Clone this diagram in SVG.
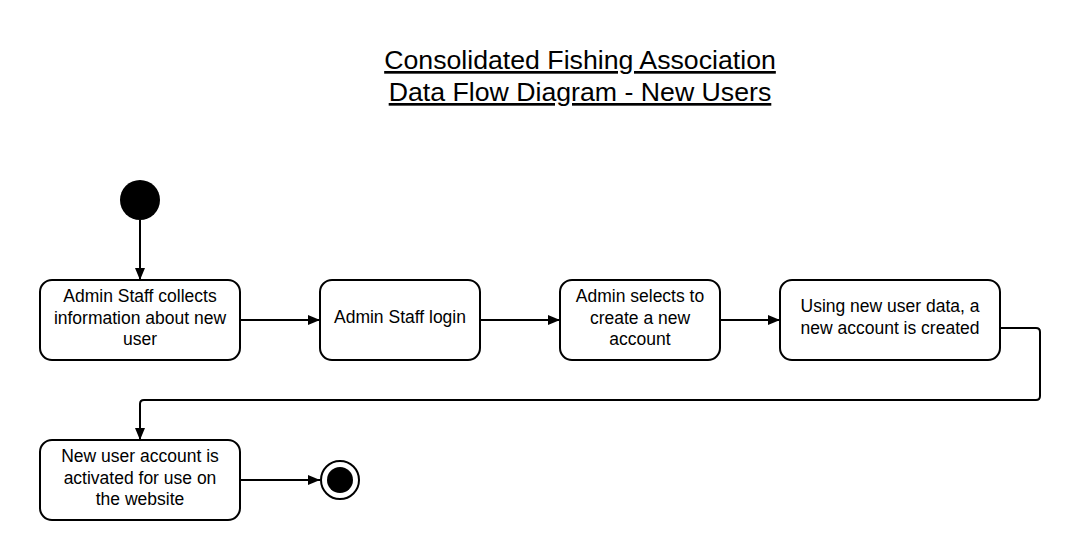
<svg xmlns="http://www.w3.org/2000/svg" width="1080" height="560" viewBox="0 0 1080 560">
<style>
.box{fill:#fff;stroke:#000;stroke-width:2}
.t{font-family:"Liberation Sans",Arial,sans-serif;font-size:17.5px;fill:#000;text-anchor:middle}
.title{font-family:"Liberation Sans",Arial,sans-serif;font-size:26.7px;fill:#000;text-anchor:middle;text-decoration:underline}
.c{fill:none;stroke:#000;stroke-width:2}
</style>
<defs>
<marker id="arr" viewBox="0 0 12 10" refX="12" refY="5" markerWidth="12" markerHeight="10" markerUnits="userSpaceOnUse" orient="auto">
<path d="M0,0 L12,5 L0,10 z" fill="#000"/>
</marker>
</defs>
<rect width="1080" height="560" fill="#fff"/>
<g id="title">
<text class="title" x="580" y="69">Consolidated Fishing Association</text>
<text class="title" x="580" y="101">Data Flow Diagram - New Users</text>
</g>
<g id="connectors">
<path class="c" d="M140,220 L140,280" marker-end="url(#arr)"/>
<path class="c" d="M240,320 L320,320" marker-end="url(#arr)"/>
<path class="c" d="M480,320 L560,320" marker-end="url(#arr)"/>
<path class="c" d="M720,320 L780,320" marker-end="url(#arr)"/>
<path class="c" d="M1000,328 L1036,328 Q1040,328 1040,332 L1040,396 Q1040,400 1036,400 L144,400 Q140,400 140,404 L140,440" marker-end="url(#arr)"/>
<path class="c" d="M240,480 L320,480" marker-end="url(#arr)"/>
</g>
<g id="start"><circle cx="140" cy="200" r="20" fill="#000"/></g>
<g id="n1">
<rect class="box" x="40" y="280" width="200" height="80" rx="12"/>
<text class="t" x="140" y="302">Admin Staff collects</text>
<text class="t" x="140" y="324">information about new</text>
<text class="t" x="140" y="345">user</text>
</g>
<g id="n2">
<rect class="box" x="320" y="280" width="160" height="80" rx="12"/>
<text class="t" x="400" y="323">Admin Staff login</text>
</g>
<g id="n3">
<rect class="box" x="560" y="280" width="160" height="80" rx="12"/>
<text class="t" x="640" y="302">Admin selects to</text>
<text class="t" x="640" y="324">create a new</text>
<text class="t" x="640" y="345">account</text>
</g>
<g id="n4">
<rect class="box" x="780" y="280" width="220" height="80" rx="12"/>
<text class="t" x="890" y="312">Using new user data, a</text>
<text class="t" x="890" y="334">new account is created</text>
</g>
<g id="n5">
<rect class="box" x="40" y="440" width="200" height="80" rx="12"/>
<text class="t" x="140" y="462">New user account is</text>
<text class="t" x="140" y="484">activated for use on</text>
<text class="t" x="140" y="505">the website</text>
</g>
<g id="end">
<circle cx="340" cy="480" r="19" fill="#fff" stroke="#000" stroke-width="2"/>
<circle cx="340" cy="480" r="13" fill="#000"/>
</g>
</svg>
